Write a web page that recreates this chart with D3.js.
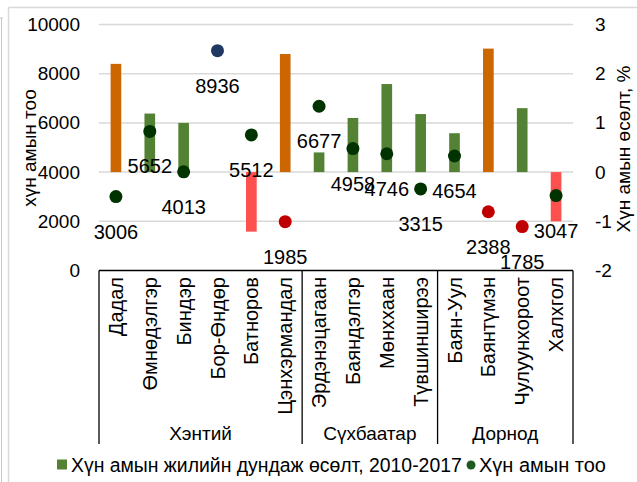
<!DOCTYPE html>
<html>
<head>
<meta charset="utf-8">
<script src="https://cdn.jsdelivr.net/npm/d3@7"></script>
<style>
  html, body { margin: 0; padding: 0; background: #ffffff; }
  svg { display: block; font-family: "Liberation Sans", Arial, sans-serif; }
</style>
</head>
<body>
<svg id="chart" width="637" height="482"></svg>
<script>
// ---- data ----
const categories = ["Дадал", "Өмнөдэлгэр", "Биндэр", "Бор-Өндөр", "Батноров", "Цэнхэрмандал",
  "Эрдэнэцагаан", "Баяндэлгэр", "Мөнххаан", "Түвшинширээ",
  "Баян-Уул", "Баянтүмэн", "Чулуунхороот", "Халхгол"];
const groups = ["Хэнтий", "Сүхбаатар", "Дорнод"];
const groupSizes = [6, 4, 4];
const growth = [2.2, 1.19, 1.0, null, -1.21, 2.4, 0.4, 1.1, 1.79, 1.18, 0.79, 2.51, 1.3, -1.0];
const population = [3006, 5652, 4013, 8936, 5512, 1985, 6677, 4958, 4746, 3315, 4654, 2388, 1785, 3047];
const leftTicks = [0, 2000, 4000, 6000, 8000, 10000];
const rightTicks = [-2, -1, 0, 1, 2, 3];
const legendLabels = ["Хүн амын жилийн дундаж өсөлт, 2010-2017", "Хүн амын тоо"];
const leftTitle = "хүн амын тоо";
const rightTitle = "Хүн амын өсөлт, %";

// ---- layout ----
const svg = d3.select("#chart");
const plot = { left: 99, right: 573, top: 24.5, bottom: 270.5 };
const FONT = 19;

const x = d3.scaleBand().domain(categories).range([plot.left, plot.right]).paddingInner(0).paddingOuter(0);
const yL = d3.scaleLinear().domain([0, 10000]).range([plot.bottom, plot.top]);
const yR = d3.scaleLinear().domain([-2, 3]).range([plot.bottom, plot.top]);

// frame
svg.append("line").attr("x1", 1.5).attr("x2", 1.5).attr("y1", 18).attr("y2", 482)
  .attr("stroke", "#c8c8c8").attr("stroke-width", 1);
svg.append("line").attr("x1", 0).attr("x2", 3).attr("y1", 18).attr("y2", 18)
  .attr("stroke", "#c8c8c8").attr("stroke-width", 1);
svg.append("line").attr("x1", 8.5).attr("x2", 637).attr("y1", 7.5).attr("y2", 7.5)
  .attr("stroke", "#d9d9d9").attr("stroke-width", 1.5);
svg.append("line").attr("x1", 8.5).attr("x2", 8.5).attr("y1", 7.5).attr("y2", 482)
  .attr("stroke", "#d9d9d9").attr("stroke-width", 1.5);

// gridlines
svg.append("g").selectAll("line").data(leftTicks.filter(d => d > 0)).join("line")
  .attr("x1", plot.left).attr("x2", plot.right)
  .attr("y1", d => yL(d)).attr("y2", d => yL(d))
  .attr("stroke", "#d9d9d9").attr("stroke-width", 1.5);

// left axis
const gL = svg.append("g").attr("transform", `translate(${80},0)`)
  .call(d3.axisLeft(yL).tickValues(leftTicks).tickSize(0).tickPadding(0).tickFormat(d3.format("d")));
gL.select(".domain").remove();
gL.selectAll("text").attr("font-size", FONT).attr("fill", "#000").attr("font-family", null);

// right axis
const gR = svg.append("g").attr("transform", `translate(${595},0)`)
  .call(d3.axisRight(yR).tickValues(rightTicks).tickSize(0).tickPadding(0).tickFormat(d3.format("d")));
gR.select(".domain").remove();
gR.selectAll("text").attr("font-size", FONT).attr("fill", "#000").attr("font-family", null)
  .text(d => d < 0 ? "-" + Math.abs(d) : d);

// axis titles
svg.append("text").attr("transform", `translate(29,148) rotate(-90)`)
  .attr("text-anchor", "middle").attr("dominant-baseline", "central")
  .attr("font-size", FONT).text(leftTitle);
svg.append("text").attr("transform", `translate(623,149) rotate(-90)`)
  .attr("text-anchor", "middle").attr("dominant-baseline", "central")
  .attr("font-size", FONT).text(rightTitle);

// bars
function barColor(v) { return v < 0 ? "#ff5050" : (v >= 2 ? "#cc6600" : "#548235"); }
const bw = x.bandwidth() * 0.315;
const barData = categories.map((c, i) => ({ c, v: growth[i] })).filter(d => d.v !== null);
svg.append("g").selectAll("rect").data(barData).join("rect")
  .attr("x", d => x(d.c) + x.bandwidth() / 2 - bw / 2)
  .attr("width", bw)
  .attr("y", d => Math.min(yR(d.v), yR(0)))
  .attr("height", d => Math.abs(yR(d.v) - yR(0)))
  .attr("fill", d => barColor(d.v));

// dots
function dotColor(v) { return v > 8000 ? "#1f3864" : (v < 2500 ? "#c00000" : "#003300"); }
const dotData = categories.map((c, i) => ({ c, v: population[i] }));
svg.append("g").selectAll("circle").data(dotData).join("circle")
  .attr("cx", d => x(d.c) + x.bandwidth() / 2)
  .attr("cy", d => yL(d.v))
  .attr("r", 6.5)
  .attr("fill", d => dotColor(d.v));

// data labels
svg.append("g").selectAll("text").data(dotData).join("text")
  .attr("x", d => x(d.c) + x.bandwidth() / 2)
  .attr("y", d => yL(d.v) + 35)
  .attr("text-anchor", "middle").attr("dominant-baseline", "central")
  .attr("font-size", 20).text(d => d.v);

// category axis
const axisBottom = 444;
svg.append("line").attr("x1", plot.left).attr("x2", plot.right)
  .attr("y1", plot.bottom).attr("y2", plot.bottom)
  .attr("stroke", "#000").attr("stroke-width", 1.3);
let idx = 0;
const bounds = [0];
groupSizes.forEach(s => { idx += s; bounds.push(idx); });
svg.append("g").selectAll("line").data(bounds).join("line")
  .attr("x1", d => d < categories.length ? x(categories[d]) : plot.right)
  .attr("x2", d => d < categories.length ? x(categories[d]) : plot.right)
  .attr("y1", plot.bottom).attr("y2", axisBottom)
  .attr("stroke", "#000").attr("stroke-width", 1.3);

svg.append("g").selectAll("text").data(categories).join("text")
  .attr("transform", d => `translate(${x(d) + x.bandwidth() / 2},${277}) rotate(-90)`)
  .attr("text-anchor", "end").attr("dominant-baseline", "central")
  .attr("font-size", 20).text(d => d);

svg.append("g").selectAll("text").data(groups).join("text")
  .attr("x", (d, i) => {
    const a = x(categories[bounds[i]]);
    const b = bounds[i + 1] < categories.length ? x(categories[bounds[i + 1]]) : plot.right;
    return (a + b) / 2;
  })
  .attr("y", 433).attr("text-anchor", "middle").attr("dominant-baseline", "central")
  .attr("font-size", FONT).text(d => d);

// legend
const lg = svg.append("g");
lg.append("rect").attr("x", 57).attr("y", 459.5).attr("width", 10).attr("height", 10).attr("fill", "#548235");
lg.append("text").attr("x", 71).attr("y", 465).attr("dominant-baseline", "central")
  .attr("font-size", 19.4).text(legendLabels[0]);
lg.append("circle").attr("cx", 471).attr("cy", 465).attr("r", 4.5).attr("fill", "#1e5a1e");
lg.append("text").attr("x", 479).attr("y", 465).attr("dominant-baseline", "central")
  .attr("font-size", 20).text(legendLabels[1]);
</script>
</body>
</html>
